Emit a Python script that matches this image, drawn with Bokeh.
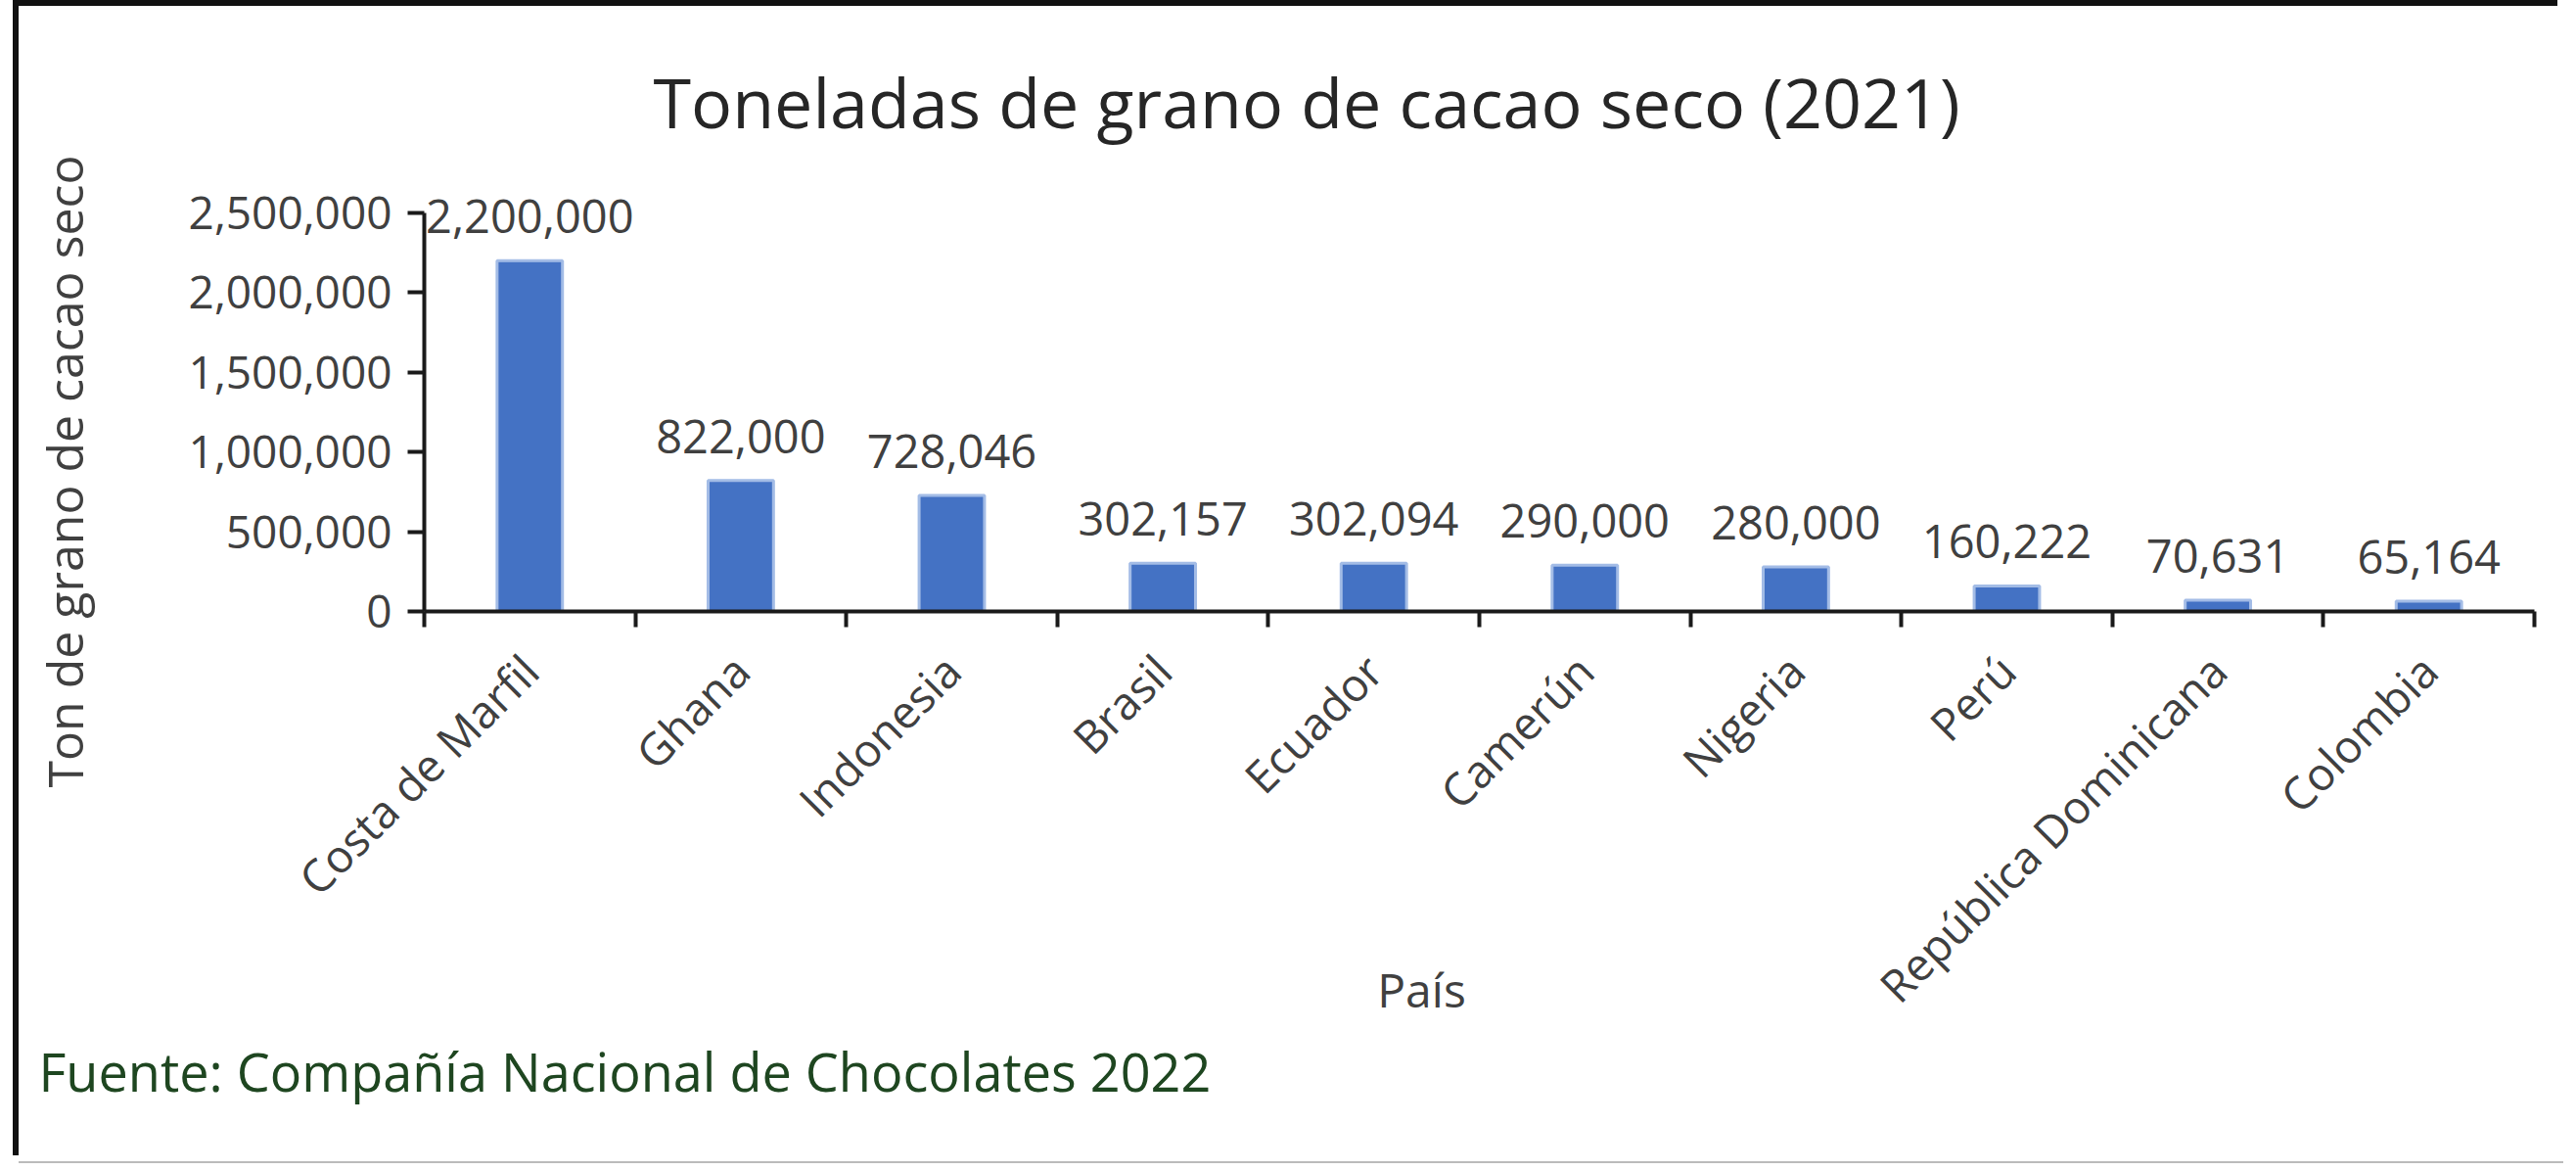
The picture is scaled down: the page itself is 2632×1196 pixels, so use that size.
import numpy as np
from bokeh.plotting import figure
from bokeh.models import (ColumnDataSource, Range1d, FixedTicker, CustomJSTickFormatter,
                          NumeralTickFormatter, LabelSet, Label)
from bokeh.core.properties import value
from bokeh.embed import file_html
from bokeh.resources import INLINE

# ---- data ----
countries = ["Costa de Marfil", "Ghana", "Indonesia", "Brasil", "Ecuador",
             "Camerún", "Nigeria", "Perú", "República Dominicana", "Colombia"]
tons = [2200000, 822000, 728046, 302157, 302094, 290000, 280000, 160222, 70631, 65164]
y_ticks = [0, 500000, 1000000, 1500000, 2000000, 2500000]
title_text = "Toneladas de grano de cacao seco (2021)"
y_title = "Ton de grano de cacao seco"
x_title = "País"
source_note = "Fuente: Compañía Nacional de Chocolates 2022"

n = len(countries)
centers = [i + 0.5 for i in range(n)]
edges = list(range(n + 1))

src = ColumnDataSource(dict(x=centers, top=tons,
                            label=[f"{v:,}" for v in tons], name=countries))

# ---- layout (canvas pixels) ----
W, H = 2600, 1180
TOP = 145                    # frame top, below the title panel
X0_PX, XN_PX = 414, 2570     # where the category axis starts / ends
Y0_PX, YT_PX = 618, 211      # where 0 and the top tick sit
ppx = (XN_PX - X0_PX) / n
ppy = (Y0_PX - YT_PX) / y_ticks[-1]
x_range = Range1d(-X0_PX / ppx, n + (W - XN_PX) / ppx)
y_range = Range1d(-(H - Y0_PX) / ppy, (Y0_PX - TOP) / ppy)

FONT = "Open Sans"
TXT = "#404040"
AX = "#1a1a1a"

p = figure(width=W, height=H, output_backend="svg", toolbar_location=None,
           x_range=x_range, y_range=y_range,
           min_border_left=0, min_border_right=0, min_border_top=TOP,
           min_border_bottom=0, title=title_text,
           styles={"position": "relative", "left": "19px", "top": "6px",
                   "box-shadow": "-6px -6px 0 0 #111111, 0 2px 0 0 #bbbbbb"})

p.title.align = "left"
p.title.offset = 648
p.title.text_font = FONT
p.title.text_font_size = "70px"
p.title.text_font_style = "normal"
p.title.text_color = "#262626"
p.title.standoff = 0

p.xgrid.visible = False
p.ygrid.visible = False
p.outline_line_color = None
p.background_fill_color = "white"
p.border_fill_color = "white"

p.vbar(x="x", top="top", width=0.31, source=src,
       fill_color="#4472C4", line_color="#a3bce6", line_width=3)

xa = p.xaxis[0]
xa.fixed_location = 0
xa.bounds = (0, n)
xa.ticker = FixedTicker(ticks=centers, minor_ticks=edges)
xa.formatter = CustomJSTickFormatter(args=dict(names=countries),
                                     code="return names[Math.floor(tick)];")
xa.major_label_orientation = np.pi / 4
xa.major_tick_line_color = None
xa.major_tick_out = 16
xa.major_tick_in = 0
xa.minor_tick_line_color = AX
xa.minor_tick_line_width = 4
xa.minor_tick_out = 16
xa.minor_tick_in = 0
xa.axis_line_color = AX
xa.axis_line_width = 4
xa.major_label_standoff = 36
xa.major_label_text_font = FONT
xa.major_label_text_font_size = "46px"
xa.major_label_text_color = TXT

ya = p.yaxis[0]
ya.fixed_location = 0
ya.bounds = (0, y_ticks[-1])
ya.ticker = FixedTicker(ticks=y_ticks)
ya.formatter = NumeralTickFormatter(format="0,0")
ya.minor_tick_line_color = None
ya.major_tick_out = 17
ya.major_tick_in = 0
ya.major_tick_line_color = AX
ya.major_tick_line_width = 4
ya.axis_line_color = AX
ya.axis_line_width = 4
ya.major_label_standoff = 16
ya.major_label_text_font = FONT
ya.major_label_text_font_size = "46px"
ya.major_label_text_color = TXT

labels = LabelSet(x="x", y="top", text="label", source=src, y_offset=28,
                  text_align="center", text_baseline="alphabetic",
                  text_font=value(FONT), text_font_size=value("47px"),
                  text_color=TXT)
p.add_layout(labels)

p.add_layout(Label(x=46, y=475, x_units="canvas", y_units="canvas", text=y_title,
                   angle=np.pi / 2, text_align="center", text_baseline="middle",
                   text_font=FONT, text_font_size="50px", text_color=TXT))
p.add_layout(Label(x=1433, y=1004, x_units="canvas", y_units="canvas", text=x_title,
                   text_align="center", text_baseline="middle",
                   text_font=FONT, text_font_size="48px", text_color=TXT))
p.add_layout(Label(x=20, y=1087, x_units="canvas", y_units="canvas", text=source_note,
                   text_align="left", text_baseline="alphabetic",
                   text_font=FONT, text_font_size="54px", text_color="#1e4620"))

open("out.html", "w").write(file_html(p, INLINE))
